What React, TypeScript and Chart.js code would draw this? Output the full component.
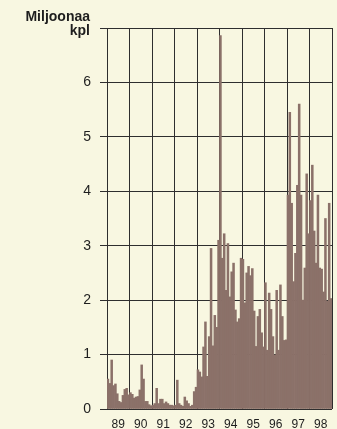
import React, { useEffect, useRef } from "react";
import { Chart, registerables } from "chart.js";

Chart.register(...registerables);

const years = ["89", "90", "91", "92", "93", "94", "95", "96", "97", "98"];

// Monthly values, millions of pieces
const v1989 = [0.55, 0.47, 0.9, 0.43, 0.46, 0.28, 0.14, 0.12, 0.25, 0.36, 0.38, 0.26];
const v1990 = [0.3, 0.27, 0.2, 0.22, 0.23, 0.35, 0.81, 0.55, 0.14, 0.14, 0.08, 0.06];
const v1991 = [0.07, 0.1, 0.38, 0.1, 0.18, 0.18, 0.1, 0.13, 0.1, 0.07, 0.07, 0.06];
const v1992 = [0.07, 0.53, 0.1, 0.07, 0.05, 0.22, 0.15, 0.1, 0.05, 0.07, 0.32, 0.4];
const v1993 = [0.72, 0.68, 0.59, 1.14, 1.6, 0.6, 1.33, 2.95, 1.16, 1.72, 1.5, 3.1];
const v1994 = [6.86, 2.77, 3.22, 2.18, 3.04, 2.06, 2.52, 2.68, 1.82, 1.6, 1.66, 2.77];
const v1995 = [2.75, 1.95, 2.5, 2.62, 2.45, 2.58, 1.8, 1.15, 1.7, 1.83, 1.4, 1.14];
const v1996 = [2.32, 1.08, 2.13, 1.83, 1.33, 0.99, 2.18, 1.08, 2.28, 1.7, 1.26, 1.27];
const v1997 = [3.93, 5.45, 3.78, 2.34, 2.86, 4.11, 5.6, 3.93, 2.0, 2.59, 4.32, 3.22];
const v1998 = [3.83, 4.48, 3.27, 2.68, 3.93, 2.59, 2.57, 2.15, 3.5, 1.98, 3.78, 2.03];

const yMin = 0;
const yMax = 7;
const yStep = 1;
const axisTitle = ["Miljoonaa", "kpl"];

const BG = "#f8f7e1";
const BAR = "#8b7169";
const GRID = "#2e2e2e";
const TEXT = "#1e1e1e";
const FONT = '"Liberation Sans", Arial, Helvetica, sans-serif';

export default function App() {
  const ref = useRef<HTMLCanvasElement>(null);

  useEffect(() => {
    if (!ref.current) return;
    const values = [
      ...v1989, ...v1990, ...v1991, ...v1992, ...v1993,
      ...v1994, ...v1995, ...v1996, ...v1997, ...v1998,
    ];
    const monthLabels = years.flatMap((y) =>
      Array.from({ length: 12 }, (_, m) => `${y}-${m + 1}`)
    );

    const titlePlugin = {
      id: "axisTitleText",
      afterDraw(chart: any) {
        const ctx = chart.ctx;
        ctx.save();
        ctx.font = `bold 14px ${FONT}`;
        ctx.fillStyle = TEXT;
        ctx.textAlign = "right";
        ctx.textBaseline = "alphabetic";
        ctx.fillText(axisTitle[0], 90, 21);
        ctx.fillText(axisTitle[1], 90, 35);
        ctx.restore();
      },
    };

    const chart = new Chart(ref.current, {
      type: "bar",
      data: {
        labels: monthLabels,
        datasets: [
          {
            data: values,
            backgroundColor: BAR,
            borderWidth: 0,
            barPercentage: 1,
            categoryPercentage: 1,
            xAxisID: "x",
            yAxisID: "y",
          },
        ],
      },
      options: {
        animation: false,
        responsive: false,
        maintainAspectRatio: false,
        layout: { padding: { top: 28, right: 5, left: 0, bottom: 0 } },
        plugins: {
          legend: { display: false },
          tooltip: { enabled: false },
        },
        scales: {
          x: { type: "category", display: false, offset: true },
          x2: {
            type: "category",
            labels: years,
            position: "bottom",
            offset: true,
            z: 1,
            grid: {
              offset: true,
              color: GRID,
              lineWidth: 1,
              drawTicks: false,
            },
            border: { display: false },
            ticks: {
              padding: 8,
              color: TEXT,
              font: { family: FONT, size: 12 },
              maxRotation: 0,
              autoSkip: false,
            },
            afterFit: (s: any) => {
              s.height = 20;
            },
          },
          y: {
            min: yMin,
            max: yMax,
            z: 1,
            ticks: {
              stepSize: yStep,
              padding: 9,
              color: TEXT,
              font: { family: FONT, size: 14 },
              callback: (v: any) => (Number(v) === yMax ? "" : String(v)),
            },
            grid: { color: GRID, lineWidth: 1, tickLength: 7, drawTicks: true },
            border: { display: false },
            afterFit: (s: any) => {
              s.width = 107;
            },
          },
        },
      } as any,
      plugins: [titlePlugin],
    });
    return () => chart.destroy();
  }, []);

  return (
    <div
      style={{
        position: "fixed",
        left: 0,
        top: 0,
        width: 337,
        height: 429,
        background: BG,
      }}
    >
      <canvas ref={ref} width={337} height={429} style={{ display: "block" }} />
    </div>
  );
}
